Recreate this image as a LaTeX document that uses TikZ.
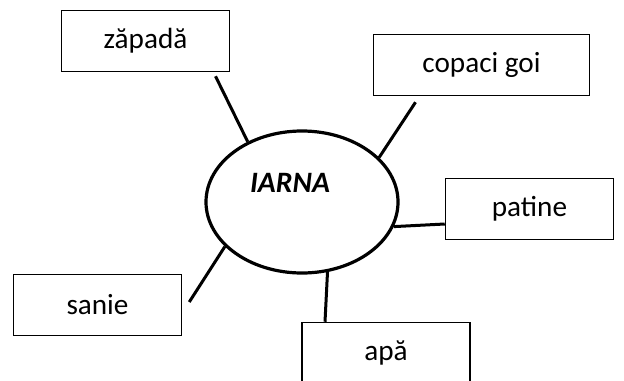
\documentclass[tikz,border=0pt]{standalone}
\usepackage{fontspec}
\setmainfont{Carlito}
\usetikzlibrary{shapes.geometric}

\begin{document}
\begin{tikzpicture}[
         x=0.5pt, y=-0.5pt,
         every node/.style={font=\fontsize{14.6}{17}\selectfont},
         wordbox/.style={draw, line width=0.75pt, minimum width=84pt, minimum height=30.5pt, inner sep=0pt},
         hub/.style={draw, ellipse, line width=1.6pt, minimum width=96pt, minimum height=71pt, inner sep=0pt},
         link/.style={line width=1.5pt}
         ]
         \useasboundingbox (0,0) rectangle (624,380);

         % centre
         \node[hub] (iarna) at (302,202) {};
         \node[font=\fontsize{14.8}{17}\selectfont\bfseries\itshape] (iarnatext) at (290,183) {IARNA};

         % words
         \node[wordbox] (zapada) at (145.5,41) {zăpadă};
         \node[wordbox, minimum width=108pt] (copaci) at (481.5,65) {copaci goi};
         \node[wordbox] (patine) at (529.5,209) {patine};
         \node[wordbox] (sanie) at (97.5,305) {sanie};
         \node[wordbox] (apa) at (386,353) {apă};

         % free ends near the boxes
         \coordinate (zapadaend) at ([shift={(70,4)}]zapada.south);
         \coordinate (copaciend) at ([shift={(-66,6)}]copaci.south);
         \coordinate (patineend) at ([shift={(0,15)}]patine.west);
         \coordinate (saniend) at ([shift={(7,-3)}]sanie.east);
         \coordinate (apaend) at ([shift={(-61,0)}]apa.north);

         \draw[link] (iarna.132) -- (zapadaend);
         \draw[link] (iarna.30) -- (copaciend);
         \draw[link] (iarna.345) -- (patineend);
         \draw[link] (iarna.290) -- (apaend);
         \draw[link] (iarna.210) -- (saniend);
\end{tikzpicture}
\end{document}
